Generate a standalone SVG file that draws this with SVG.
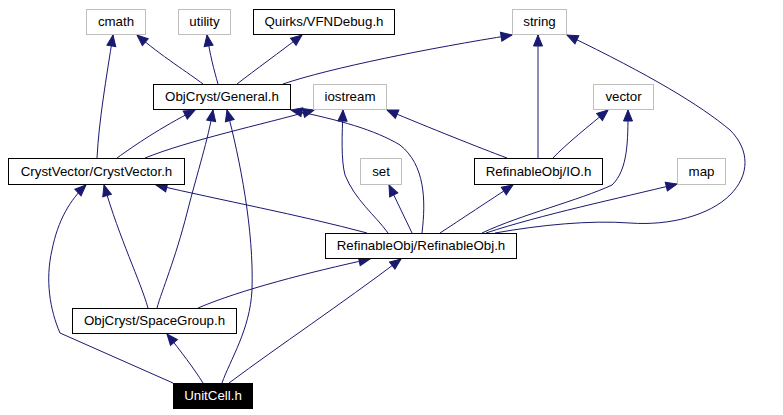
<svg xmlns="http://www.w3.org/2000/svg" width="783" height="415" viewBox="0 0 783 415">
<style>
.g rect{fill:#fff;stroke:#bfbfbf;stroke-width:1}
.b rect{fill:#fff;stroke:#000;stroke-width:1}
.k rect{fill:#000;stroke:#000;stroke-width:1}
text{font-family:"Liberation Sans",Arial,sans-serif;font-size:13.3px;text-anchor:middle;fill:#000}
.k text{fill:#fff}
#edges path{fill:none;stroke:#191970;stroke-width:1;marker-end:url(#arr)}
</style>
<defs>
<marker id="arr" markerWidth="11" markerHeight="9" refX="11" refY="4.5" orient="auto" markerUnits="userSpaceOnUse" overflow="visible">
<path d="M0,0 L11,4.5 L0,9 z" fill="#191970" stroke="#191970" stroke-width="1"/>
</marker>
</defs>
<rect width="783" height="415" fill="#fff"/>
<g id="edges">
<path d="M203,84 C190,74 160,55 137,35"/>
<path d="M218,84 C214,70 210,55 207,35"/>
<path d="M237,84 C255,70 280,52 302,35"/>
<path d="M283,84 C330,68 430,48 512,35"/>
<path d="M97,158 C99,120 106,80 113,35"/>
<path d="M117,158 C135,145 160,128 195,110"/>
<path d="M145,158 C190,140 260,125 314,110"/>
<path d="M157,308 C162,290 175,260 187,213 C198,170 208,140 213,110"/>
<path d="M222,383 C230,360 250,330 252,290 C254,230 240,160 227,110"/>
<path d="M422,233 C426,200 425,165 400,145 C375,130 340,120 291,110"/>
<path d="M388,233 C375,215 355,200 345,175 C341,160 342,135 343,110"/>
<path d="M507,158 C480,148 430,128 387,110"/>
<path d="M538,158 L538,35"/>
<path d="M553,158 C565,145 590,125 608,110"/>
<path d="M440,233 C460,220 490,200 513,185"/>
<path d="M482,233 C520,215 580,200 612,185 C628,170 628,140 628,110"/>
<path d="M486,233 C540,215 620,198 677,184"/>
<path d="M495,233 C540,225 590,220 630,223 C670,226 710,215 730,195 C750,175 750,150 730,130 C700,105 650,75 567,35"/>
<path d="M412,233 L389,185"/>
<path d="M367,233 C300,215 220,200 156,185"/>
<path d="M198,308 C240,290 310,272 370,259"/>
<path d="M229,383 C280,345 340,305 401,259"/>
<path d="M173,383 L60,333 C50,310 45,280 52,250 C58,220 70,200 86,185"/>
<path d="M148,308 C140,280 120,240 104,185"/>
<path d="M203,383 C195,370 180,350 167,334"/>
</g>
<g id="cmath" class="g"><rect x="86.5" y="9.5" width="59" height="25"/><text x="116" y="26">cmath</text></g>
<g id="utility" class="g"><rect x="178.5" y="9.5" width="52" height="25"/><text x="204.5" y="26">utility</text></g>
<g id="vfndebug" class="b"><rect x="253.5" y="9.5" width="141" height="25"/><text x="324" y="26">Quirks/VFNDebug.h</text></g>
<g id="string" class="g"><rect x="512.5" y="9.5" width="54" height="25"/><text x="539.5" y="26">string</text></g>
<g id="general" class="b"><rect x="153.5" y="84.5" width="137" height="25"/><text x="222" y="101">ObjCryst/General.h</text></g>
<g id="iostream" class="g"><rect x="313.5" y="84.5" width="73" height="25"/><text x="350" y="101">iostream</text></g>
<g id="vector" class="g"><rect x="593.5" y="84.5" width="60" height="25"/><text x="623.5" y="101">vector</text></g>
<g id="crystvector" class="b"><rect x="8.5" y="158.5" width="176" height="26"/><text x="96.5" y="176">CrystVector/CrystVector.h</text></g>
<g id="set" class="g"><rect x="360.5" y="158.5" width="41" height="26"/><text x="381" y="176">set</text></g>
<g id="io" class="b"><rect x="474.5" y="158.5" width="128" height="26"/><text x="538.5" y="176">RefinableObj/IO.h</text></g>
<g id="map" class="g"><rect x="677.5" y="158.5" width="48" height="26"/><text x="701.5" y="176">map</text></g>
<g id="refinableobj" class="b"><rect x="325.5" y="233.5" width="191" height="25"/><text x="421" y="250">RefinableObj/RefinableObj.h</text></g>
<g id="spacegroup" class="b"><rect x="72.5" y="308.5" width="164" height="25"/><text x="154.5" y="325">ObjCryst/SpaceGroup.h</text></g>
<g id="unitcell" class="k"><rect x="173.5" y="383.5" width="79" height="25"/><text x="213" y="400">UnitCell.h</text></g>
</svg>
